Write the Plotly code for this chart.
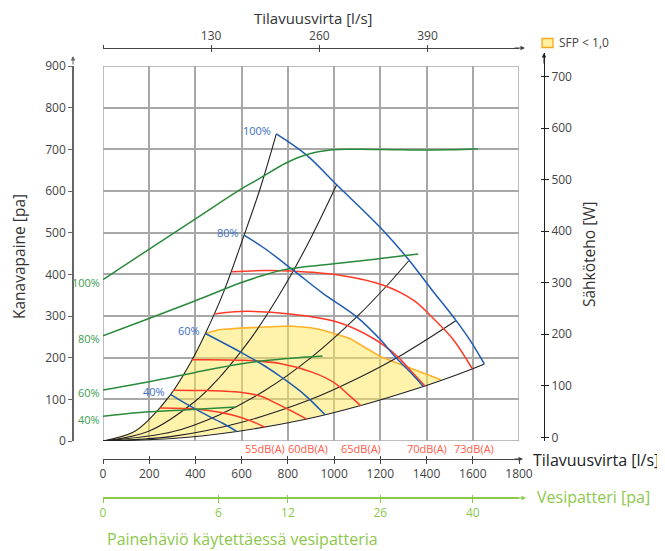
import plotly.graph_objects as go

# page body has an 8px margin: build the figure in reference pixels shifted by 8
OFF = 8
W, H = 665 - OFF, 551 - OFF
def xf(px):
    return (px - OFF) / W
def yf(py):
    return 1 - (py - OFF) / H

# ---------------- data ----------------
flow_ticks = [0, 200, 400, 600, 800, 1000, 1200, 1400, 1600, 1800]
pressure_ticks = [0, 100, 200, 300, 400, 500, 600, 700, 800, 900]
power_ticks = [0, 100, 200, 300, 400, 500, 600, 700]
ls_ticks = [0, 130, 260, 390]
ls_text = ["", "130", "260", "390"]
water_flow = [0, 500, 800, 1200, 1600]
water_text = ["0", "6", "12", "26", "40"]

# system curves (black)
s1_x = [0, 130, 200, 291, 380, 443, 520, 608, 680, 750]
s1_y = [0, 21, 52, 110, 189, 258, 355, 490, 606, 737]
s2_x = [0, 200, 400, 500, 600, 665, 750, 809, 900, 1011]
s2_y = [0, 24, 96, 150, 217, 266, 339, 394, 488, 615]
s3_x = [0, 300, 500, 700, 900, 1100, 1227, 1322]
s3_y = [0, 22, 62, 121, 200, 299, 372, 432]
s4_x = [0, 300, 600, 900, 1100, 1300, 1528]
s4_y = [0, 11, 45, 100, 150, 209, 289]
s5_x = [0, 300, 580, 877, 1115, 1393, 1462, 1597, 1650]
s5_y = [0, 6, 23, 52, 85, 132, 145, 173, 185]

# fan speed curves (blue)
b100_x = [750, 881, 1011, 1199, 1314, 1420, 1528, 1588, 1650]
b100_y = [737, 686, 615, 513, 441, 365, 289, 242, 185]
b80_x = [610, 700, 823, 950, 1098, 1199, 1264, 1330, 1386]
b80_y = [494, 462, 410, 355, 298, 244, 202, 165, 131]
b60_x = [443, 593, 700, 780, 870, 961]
b60_y = [258, 214, 180, 150, 112, 63]
b40_x = [292, 370, 449, 520, 579]
b40_y = [112, 86, 62, 42, 23]

# sound level curves (red)
r55_x = [247, 350, 449, 564, 636, 701]
r55_y = [79, 78, 74, 62, 49, 33]
r60_x = [304, 450, 593, 680, 737, 823, 881]
r60_y = [122, 121, 117, 108, 94, 70, 53]
r65_x = [384, 593, 766, 910, 1000, 1060, 1115]
r65_y = [195, 194, 186, 164, 140, 112, 85]
r70_x = [482, 593, 809, 1010, 1170, 1270, 1330, 1393]
r70_y = [305, 311, 305, 286, 246, 205, 170, 132]
r73_x = [558, 700, 809, 1025, 1213, 1343, 1444, 1516, 1597]
r73_y = [406, 409, 408, 398, 374, 338, 286, 243, 174]
db_labels = ["55dB(A)", "60dB(A)", "65dB(A)", "70dB(A)", "73dB(A)"]
db_label_x = [700, 885, 1115, 1400, 1605]

# SFP < 1,0 upper boundary (orange)
sfp_x = [443, 500, 593, 700, 809, 900, 953, 1000, 1069, 1199, 1330, 1462]
sfp_y = [258, 267, 271, 274, 276, 272, 266, 258, 246, 203, 176, 147]

# electric power curves (green, W)
g100_x = [0, 202, 400, 590, 676, 790, 876, 992, 1100, 1300, 1500, 1622]
g100_y = [306, 366, 424, 480, 502, 532, 548, 558, 559, 558, 558, 560]
g80_x = [0, 202, 400, 590, 676, 790, 1020, 1200, 1364]
g80_y = [197, 231, 265, 299, 312, 326, 338, 347, 356]
g60_x = [0, 200, 400, 600, 800, 950]
g60_y = [92, 108, 126, 143, 153, 158]
g40_x = [0, 160, 350, 576]
g40_y = [41, 48, 53, 59]
speed_labels = ["100%", "80%", "60%", "40%"]

# ---------------- colours ----------------
BLUE = "#1f5bb0"
BLUE_TXT = "#3a6fc4"
RED = "#ff3a28"
RED_TXT = "#ff5a48"
GREEN = "#2a8a3c"
GREEN_TXT = "#3d9e50"
LIME = "#8cc84b"
BLACK = "#222222"
GRID = "#a8a8a8"
TXT = "#444444"
FONT = "Open Sans"

fig = go.Figure()

# yellow SFP area
fill_x = s1_x[:6] + sfp_x + [x for x in reversed(s5_x) if x < sfp_x[-1]]
fill_y = s1_y[:6] + sfp_y + [y for x, y in zip(reversed(s5_x), reversed(s5_y)) if x < sfp_x[-1]]
fig.add_trace(go.Scatter(x=fill_x, y=fill_y, fill="toself", mode="none",
                         fillcolor="rgba(255,232,90,0.5)", hoverinfo="skip"))
fig.add_trace(go.Scatter(x=sfp_x, y=sfp_y, mode="lines",
                         line=dict(color="#ffb12a", width=1.6), hoverinfo="skip"))

for sx, sy in [(s1_x, s1_y), (s2_x, s2_y), (s3_x, s3_y), (s4_x, s4_y), (s5_x, s5_y)]:
    fig.add_trace(go.Scatter(x=sx, y=sy, mode="lines", line=dict(color=BLACK, width=1.1, shape="spline"),
                             hoverinfo="skip"))
for rx, ry in [(r55_x, r55_y), (r60_x, r60_y), (r65_x, r65_y), (r70_x, r70_y), (r73_x, r73_y)]:
    fig.add_trace(go.Scatter(x=rx, y=ry, mode="lines", line=dict(color=RED, width=1.5, shape="spline"),
                             hoverinfo="skip"))
blue_sets = [(b100_x, b100_y), (b80_x, b80_y), (b60_x, b60_y), (b40_x, b40_y)]
for bx, by in blue_sets:
    fig.add_trace(go.Scatter(x=bx, y=by, mode="lines", line=dict(color=BLUE, width=1.5, shape="spline"),
                             hoverinfo="skip"))
green_sets = [(g100_x, g100_y), (g80_x, g80_y), (g60_x, g60_y), (g40_x, g40_y)]
for gx, gy in green_sets:
    fig.add_trace(go.Scatter(x=gx, y=gy, mode="lines", line=dict(color=GREEN, width=1.5, shape="spline"),
                             xaxis="x4", yaxis="y2", hoverinfo="skip"))

# dummy traces so the extra axes render
for xa, ya in [("x2", "y"), ("x3", "y"), ("x5", "y"), ("x6", "y"), ("x7", "y"), ("x4", "y3")]:
    fig.add_trace(go.Scatter(x=[None], y=[None], xaxis=xa, yaxis=ya, hoverinfo="skip"))

xdom = [xf(103), xf(519)]
tickfont = dict(family=FONT, size=12, color=TXT)
inner_x = dict(overlaying="x", anchor="free", ticks="inside", ticklen=3, showticklabels=False,
               showline=False, showgrid=False, zeroline=False, automargin=False)

fig.update_layout(
    width=W, height=H, margin=dict(l=0, r=0, t=0, b=0),
    template="none", showlegend=False,
    paper_bgcolor="white", plot_bgcolor="rgba(0,0,0,0)",
    font=dict(family=FONT, color=TXT),
    xaxis=dict(domain=xdom, range=[0, 1800], anchor="free", position=yf(459),
               tickvals=flow_ticks, ticks="outside", ticklen=4, tickcolor="#444",
               showline=True, linecolor="#444", linewidth=1, tickfont=tickfont,
               showgrid=True, gridcolor=GRID, gridwidth=1.5, zeroline=False,
               automargin=False, fixedrange=True),
    xaxis5=dict(inner_x, range=[0, 1800], position=yf(459), side="bottom",
                tickvals=flow_ticks, tickcolor="#444"),
    xaxis2=dict(overlaying="x", side="top", range=[0, 500], anchor="free", position=yf(48),
                tickvals=ls_ticks, ticktext=ls_text, ticks="outside", ticklen=3, tickcolor="#444",
                showline=True, linecolor="#444", linewidth=1, tickfont=tickfont,
                showgrid=False, zeroline=False, automargin=False),
    xaxis6=dict(inner_x, range=[0, 500], position=yf(48), side="top",
                tickvals=ls_ticks, tickcolor="#444"),
    xaxis3=dict(overlaying="x", side="bottom", range=[0, 1800], anchor="free", position=yf(498),
                tickvals=water_flow, ticktext=water_text, ticks="outside", ticklen=4, tickcolor=LIME,
                showline=True, linecolor=LIME, linewidth=1.5,
                tickfont=dict(family=FONT, size=12, color=LIME),
                showgrid=False, zeroline=False, automargin=False),
    xaxis7=dict(inner_x, range=[0, 1800], position=yf(498), side="bottom",
                tickvals=water_flow, tickcolor=LIME),
    xaxis4=dict(domain=xdom, range=[0, 1800], anchor="y2", visible=False, showgrid=False),
    yaxis=dict(domain=[yf(441), yf(66)], range=[0, 900], anchor="free", position=xf(73),
               tickvals=pressure_ticks, ticks="outside", ticklen=4, tickcolor="#666",
               showline=True, linecolor="#666", linewidth=1.5, tickfont=tickfont,
               showgrid=True, gridcolor=GRID, gridwidth=1.5, zeroline=False,
               automargin=False),
    yaxis2=dict(domain=[yf(441), yf(53)], range=[(437.3 - 441) / 0.5151, (437.3 - 53) / 0.5151],
                anchor="free", position=xf(544), side="right",
                tickvals=power_ticks, ticks="outside", ticklen=4, tickcolor="#222",
                showline=True, linecolor="#222", linewidth=1, tickfont=tickfont,
                showgrid=False, zeroline=False, automargin=False),
    yaxis3=dict(overlaying="y2", range=[(437.3 - 441) / 0.5151, (437.3 - 53) / 0.5151],
                anchor="free", position=xf(544), side="right",
                tickvals=power_ticks, ticks="inside", ticklen=3, tickcolor="#222",
                showticklabels=False, showline=False, showgrid=False, zeroline=False,
                automargin=False),
)

shapes = [
    dict(type="rect", xref="x", yref="y", x0=0, x1=1800, y0=0, y1=900,
         line=dict(color=GRID, width=1.5), layer="between"),
    dict(type="rect", xref="paper", yref="paper", x0=xf(542), x1=xf(553), y0=yf(47.5), y1=yf(38.5),
         line=dict(color="#f5a623", width=1.3), fillcolor="#fff0a0"),
]
fig.update_layout(shapes=shapes)

ann = []
def text(px, py, s, size=12, color=TXT, xanchor="center", angle=0):
    ann.append(dict(x=xf(px), y=yf(py), xref="paper", yref="paper", text=s, showarrow=False,
                    xanchor=xanchor, yanchor="middle", textangle=angle, borderpad=0,
                    font=dict(family=FONT, size=size, color=color)))

def arrow(px, py, ax, ay, color="#444"):
    ann.append(dict(x=xf(px), y=yf(py), xref="paper", yref="paper", text="", showarrow=True,
                    ax=ax, ay=ay, arrowhead=2, arrowsize=0.9, arrowwidth=1, arrowcolor=color))

text(313, 17.5, "Tilavuusvirta [l/s]", size=15, color="#333")
text(19, 257, "Kanavapaine [pa]", size=15.5, color="#333", angle=-90)
text(589, 254, "Sähköteho [W]", size=15.5, color="#333", angle=-90)
text(532, 460, "Tilavuusvirta [l/s]", size=16, color="#222", xanchor="left")
text(536, 497, "Vesipatteri [pa]", size=16, color=LIME, xanchor="left")
text(106, 539, "Painehäviö käytettäessä vesipatteria", size=16, color=LIME, xanchor="left")
text(558, 43, "SFP &lt; 1,0", size=12, color=TXT, xanchor="left")

arrow(525, 48, -12, 0)
arrow(523, 459, -10, 0)
arrow(526, 498, -12, 0, color=LIME)
arrow(544, 53, 0, 12, color="#222")
arrow(73, 56, 0, 10, color="#666")

for lab, lx in zip(db_labels, db_label_x):
    ann.append(dict(x=lx, y=0, xref="x", yref="y", yshift=-7, text=lab, showarrow=False,
                    font=dict(family=FONT, size=11, color=RED_TXT)))

for lab, (gx, gy) in zip(speed_labels, green_sets):
    ann.append(dict(x=gx[0], y=gy[0], xref="x4", yref="y2", text=lab, showarrow=False,
                    xanchor="right", xshift=-1, yshift=-3,
                    font=dict(family=FONT, size=11, color=GREEN_TXT)))
for lab, (bx, by) in zip(speed_labels, blue_sets):
    ann.append(dict(x=bx[0], y=by[0], xref="x", yref="y", text=lab, showarrow=False,
                    xanchor="right", xshift=-3, yshift=3,
                    font=dict(family=FONT, size=11, color=BLUE_TXT)))

fig.update_layout(annotations=ann)
fig.write_html("out.html")
